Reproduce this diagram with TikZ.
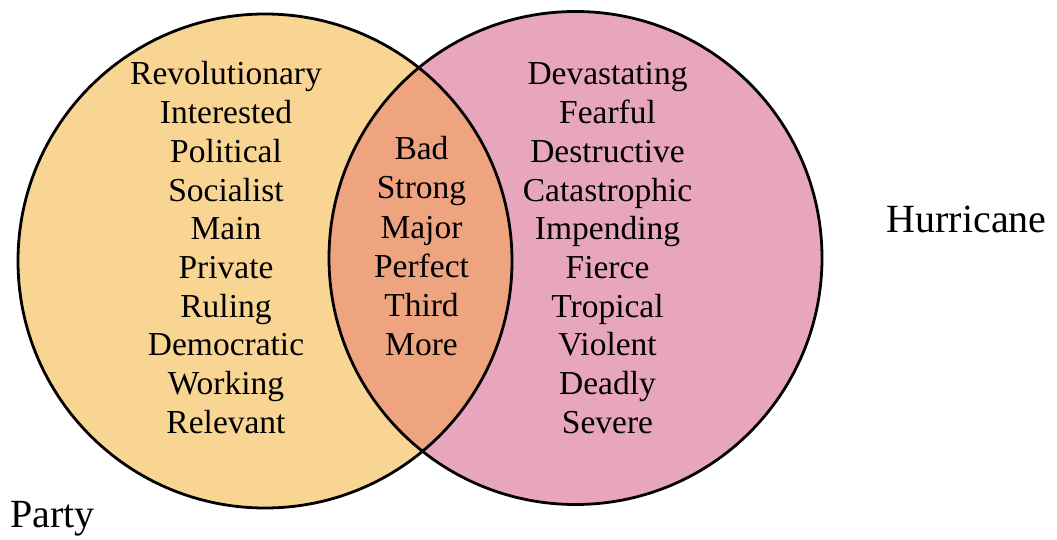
\documentclass[tikz,border=0pt]{standalone}
\usepackage{fontspec}
\setmainfont{Liberation Serif}
\definecolor{partyfill}{HTML}{F9D594}
\definecolor{hurrfill}{HTML}{E8A5BE}
\definecolor{bothfill}{HTML}{EDA47F}
\begin{document}
\begin{tikzpicture}[x=1pt,y=-1pt,
  word/.style={anchor=base,inner sep=0pt,font=\fontsize{33.5}{40}\selectfont},
  setlabel/.style={anchor=base,inner sep=0pt,font=\fontsize{40}{48}\selectfont},
  ring/.style={draw=black,line width=2.8pt}]
\useasboundingbox (0,0) rectangle (1057,540);
\coordinate (cp) at (265,261);
\coordinate (ch) at (575.5,258);
\fill[partyfill] (cp) circle[radius=247];
\fill[hurrfill] (ch) circle[radius=246.5];
\begin{scope}
  \clip (cp) circle[radius=247];
  \fill[bothfill] (ch) circle[radius=246.5];
\end{scope}
\draw[ring] (cp) circle[radius=247];
\draw[ring] (ch) circle[radius=246.5];
\foreach \w [count=\i] in {Revolutionary,Interested,Political,Socialist,Main,Private,Ruling,Democratic,Working,Relevant}
  \node[word,name=p\i] at (226,{85+38.7*(\i-1)}) {\w};
\foreach \w [count=\i] in {Bad,Strong,Major,Perfect,Third,More}
  \node[word,name=b\i] at (421.5,{160+39*(\i-1)}) {\w};
\foreach \w [count=\i] in {Devastating,Fearful,Destructive,Catastrophic,Impending,Fierce,Tropical,Violent,Deadly,Severe}
  \node[word,name=h\i] at (607.5,{85+38.7*(\i-1)}) {\w};
\node[setlabel] (hurricane) at (966.7,232.7) {Hurricane};
\node[setlabel] (party) at (52.5,527) {Party};
\end{tikzpicture}
\end{document}
